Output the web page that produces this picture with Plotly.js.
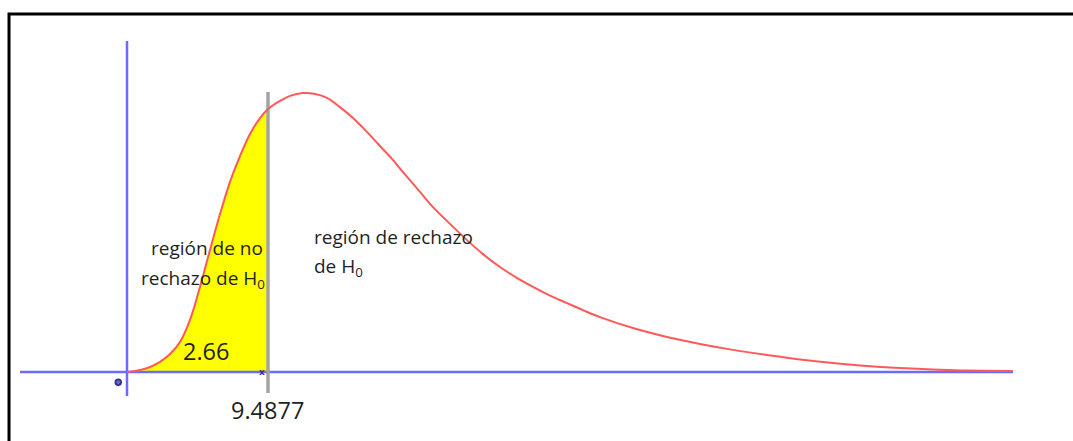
<!DOCTYPE html>
<html>
<head>
<meta charset="utf-8">
<script src="https://cdn.plot.ly/plotly-3.0.1.min.js"></script>
<style>html,body{margin:0;padding:0;background:#fff;}#chart{width:1073px;height:441px;}</style>
</head>
<body>
<div id="chart"></div>
<script>
// Chi-square-like density curve (x in statistic units, y in density units)
const chiX = [0, 0.875, 1.548, 2.221, 2.893, 3.566, 4.239, 4.912, 5.585, 6.258, 6.931, 7.604, 8.277, 8.950, 9.4877, 9.622, 10.295, 10.968, 11.843, 12.651, 13.458, 14.333, 15.208, 16.082, 17.024, 17.832, 18.572, 19.716, 20.591, 21.735, 22.879, 23.955, 25.099, 26.176, 27.320, 28.464, 29.608, 30.684, 31.828, 34.049, 36.337, 38.557, 40.778, 43.066, 45.287, 47.507, 49.795, 52.016, 54.236, 56.524, 59.619];
const density = [0, 0.0007, 0.0018, 0.0036, 0.0064, 0.0107, 0.0186, 0.0304, 0.0436, 0.0564, 0.0679, 0.0771, 0.0850, 0.0907, 0.0939, 0.0945, 0.0968, 0.0986, 0.0996, 0.0993, 0.0979, 0.0946, 0.0907, 0.0861, 0.0807, 0.0761, 0.0714, 0.0643, 0.0589, 0.0529, 0.0471, 0.0421, 0.0375, 0.0338, 0.0304, 0.0273, 0.0246, 0.0221, 0.0196, 0.0157, 0.0125, 0.0100, 0.0079, 0.0061, 0.0045, 0.0032, 0.0021, 0.0014, 0.0009, 0.0005, 0.0004];
const criticalValue = 9.4877;
const statisticLabel = "2.66";
const criticalLabel = "9.4877";
const labelNoReject = ["región de no", "rechazo de H<sub>0</sub>"];
const labelReject = ["región de rechazo", "de H<sub>0</sub>"];

const W = 1073, H = 441;
const PX = x => x / W, PY = y => 1 - y / H;

const fillX = [], fillY = [];
chiX.forEach((x, i) => { if (x <= criticalValue) { fillX.push(x); fillY.push(density[i]); } });

const blue = '#6b6bff';
const traces = [
  {x: fillX, y: fillY, mode: 'lines', line: {width: 0, shape: 'spline', color: 'rgba(0,0,0,0)'}, fill: 'tozeroy', fillcolor: '#ffff00', hoverinfo: 'skip'},
  {x: [-7.2, 59.62], y: [0, 0], mode: 'lines', line: {color: blue, width: 2.5}, hoverinfo: 'skip'},
  {x: [0, 0], y: [-0.0086, 0.1182], mode: 'lines', line: {color: blue, width: 2.5}, hoverinfo: 'skip'},
  {x: [criticalValue, criticalValue], y: [-0.0075, 0.1], mode: 'lines', line: {color: '#a3a3a3', width: 3.5}, hoverinfo: 'skip'},
  {x: chiX, y: density, mode: 'lines', line: {color: '#ff5959', width: 2, shape: 'spline'}, hoverinfo: 'skip'}
];

const font = {family: 'Open Sans, sans-serif', size: 19, color: '#1f1f1f'};
const numFont = {family: 'Open Sans, sans-serif', size: 23.5, color: '#1f1f1f'};
const ann = (text, x, y, xanchor, f) => ({text, x: PX(x), y: PY(y), xref: 'paper', yref: 'paper', xanchor, yanchor: 'middle', showarrow: false, font: f, align: xanchor === 'right' ? 'right' : 'left'});

const layout = {
  width: W, height: H,
  margin: {l: 0, r: 0, t: 0, b: 0, pad: 0},
  paper_bgcolor: '#ffffff', plot_bgcolor: '#ffffff',
  showlegend: false,
  xaxis: {range: [-8.5459, 63.657], visible: false, fixedrange: true},
  yaxis: {range: [-0.024643, 0.132857], visible: false, fixedrange: true},
  annotations: [
    ann(labelNoReject[0], 265, 248, 'right', font),
    ann(labelNoReject[1], 267, 279, 'right', font),
    ann(labelReject[0], 312, 237, 'left', font),
    ann(labelReject[1], 312, 267, 'left', font),
    ann(statisticLabel, 206, 351, 'center', numFont),
    ann(criticalLabel, 267, 410, 'center', numFont),
    {text: '<b>x</b>', x: PX(257), y: PY(379), xref: 'paper', yref: 'paper', showarrow: false, font: {family: 'DejaVu Sans', size: 9, color: '#33339a'}}
  ],
  shapes: [
    {type: 'rect', xref: 'paper', yref: 'paper', x0: PX(9), x1: PX(1090), y0: PY(14), y1: PY(460), line: {color: '#000', width: 3}, fillcolor: 'rgba(0,0,0,0)'},
    {type: 'circle', xref: 'paper', yref: 'paper', x0: PX(115.5), x1: PX(121), y0: PY(379.5), y1: PY(385), line: {color: '#34349c', width: 2}, fillcolor: '#7070c8'}
  ]
};

Plotly.newPlot('chart', traces, layout, {displayModeBar: false, staticPlot: true});
</script>
</body>
</html>
